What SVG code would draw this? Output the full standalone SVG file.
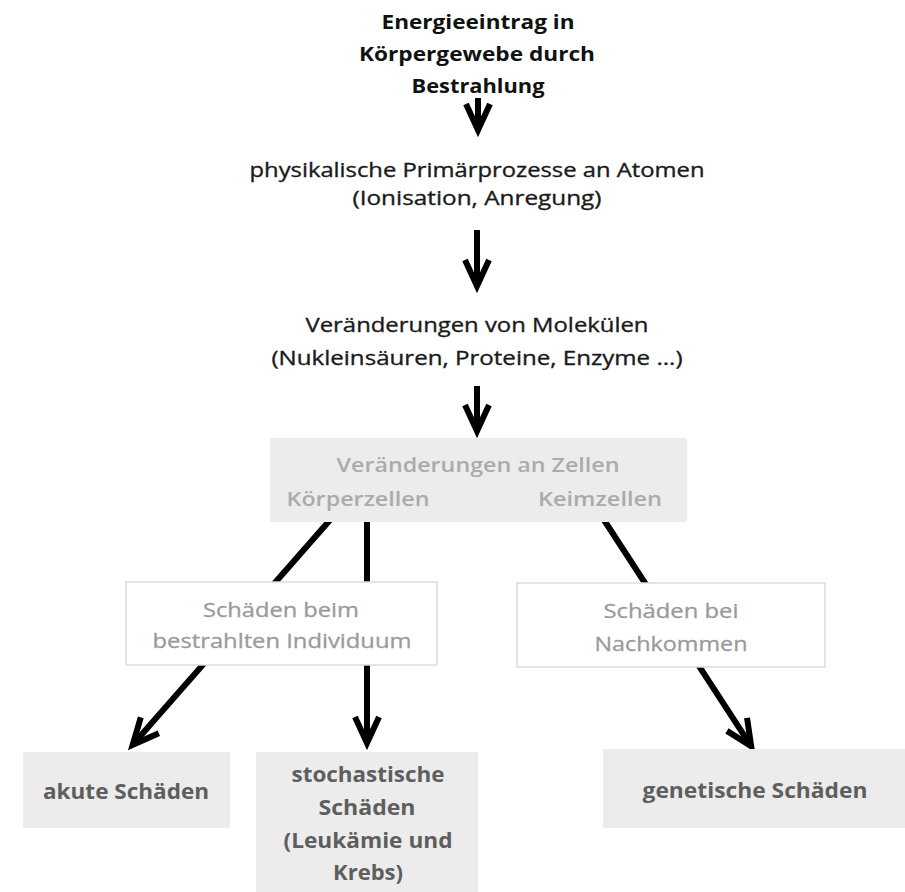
<svg xmlns="http://www.w3.org/2000/svg" width="905" height="892" viewBox="0 0 905 892">
<style>
text{font-family:"Open Sans","Liberation Sans",sans-serif;text-anchor:middle;font-size:20.5px}
.title{font-weight:700;fill:#111;font-size:20px}
.plain{fill:#1a1a1a;stroke:#1a1a1a;stroke-width:0.35}
.cell{fill:#ababab;font-weight:600}
.light{fill:#9a9a9a;stroke:#9a9a9a;stroke-width:0.3}
.res{fill:#5e5e5e;font-weight:700}
.gbox{fill:#ececec}
.wbox{fill:#fff;stroke:#dcdcdc;stroke-width:1.5}
.conn{stroke:#000;stroke-width:6;fill:none;marker-end:url(#chev)}
</style>
<defs>
<marker id="chev" markerUnits="userSpaceOnUse" orient="auto" refX="22" refY="0" markerWidth="40" markerHeight="40" overflow="visible">
<path d="M0,-12 L26,0 L0,12" fill="none" stroke="#000" stroke-width="6" stroke-linejoin="miter"/>
</marker>
</defs>
<rect width="905" height="892" fill="#fff"/>
<g id="connectors">
<line class="conn" x1="478" y1="98" x2="478" y2="126"/>
<line class="conn" x1="477" y1="230" x2="477" y2="282"/>
<line class="conn" x1="477" y1="386" x2="477" y2="427"/>
<line class="conn" x1="330" y1="520" x2="135.3" y2="741.8"/>
<line class="conn" x1="367" y1="520" x2="367" y2="739"/>
<line class="conn" x1="604" y1="520" x2="749" y2="742.8"/>
</g>
<g id="n-energie">
<text class="title" x="478" y="29" textLength="193" lengthAdjust="spacingAndGlyphs">Energieeintrag in</text>
<text class="title" x="477" y="61" textLength="236" lengthAdjust="spacingAndGlyphs">Körpergewebe durch</text>
<text class="title" x="478" y="93" textLength="133" lengthAdjust="spacingAndGlyphs">Bestrahlung</text>
</g>
<g id="n-physik">
<text class="plain" x="477" y="177" textLength="455" lengthAdjust="spacingAndGlyphs">physikalische Primärprozesse an Atomen</text>
<text class="plain" x="477" y="205" textLength="249" lengthAdjust="spacingAndGlyphs">(Ionisation, Anregung)</text>
</g>
<g id="n-molekuele">
<text class="plain" x="477" y="332" textLength="343" lengthAdjust="spacingAndGlyphs">Veränderungen von Molekülen</text>
<text class="plain" x="477" y="365" textLength="411" lengthAdjust="spacingAndGlyphs">(Nukleinsäuren, Proteine, Enzyme ...)</text>
</g>
<g id="n-zellen">
<rect class="gbox" x="270" y="438" width="417" height="84"/>
<text class="cell" x="478" y="472" textLength="283" lengthAdjust="spacingAndGlyphs">Veränderungen an Zellen</text>
<text class="cell" x="358" y="506" textLength="143" lengthAdjust="spacingAndGlyphs">Körperzellen</text>
<text class="cell" x="600" y="506" textLength="124" lengthAdjust="spacingAndGlyphs">Keimzellen</text>
</g>
<g id="n-individuum">
<rect class="wbox" x="126" y="582" width="311" height="83"/>
<text class="light" x="281" y="617" textLength="156" lengthAdjust="spacingAndGlyphs">Schäden beim</text>
<text class="light" x="282" y="648" textLength="259" lengthAdjust="spacingAndGlyphs">bestrahlten Individuum</text>
</g>
<g id="n-nachkommen">
<rect class="wbox" x="517" y="583" width="308" height="84"/>
<text class="light" x="671" y="618" textLength="135" lengthAdjust="spacingAndGlyphs">Schäden bei</text>
<text class="light" x="671" y="651" textLength="153" lengthAdjust="spacingAndGlyphs">Nachkommen</text>
</g>
<g id="n-akut">
<rect class="gbox" x="23" y="752" width="207" height="76"/>
<text class="res" x="126" y="799" textLength="166" lengthAdjust="spacingAndGlyphs">akute Schäden</text>
</g>
<g id="n-stochastisch">
<rect class="gbox" x="256" y="752" width="222" height="140"/>
<text class="res" x="368" y="782" textLength="153" lengthAdjust="spacingAndGlyphs">stochastische</text>
<text class="res" x="367" y="815" textLength="97" lengthAdjust="spacingAndGlyphs">Schäden</text>
<text class="res" x="368" y="848" textLength="169" lengthAdjust="spacingAndGlyphs">(Leukämie und</text>
<text class="res" x="368" y="880" textLength="70" lengthAdjust="spacingAndGlyphs">Krebs)</text>
</g>
<g id="n-genetisch">
<rect class="gbox" x="603" y="749" width="302" height="79"/>
<text class="res" x="755" y="798" textLength="225" lengthAdjust="spacingAndGlyphs">genetische Schäden</text>
</g>
</svg>
